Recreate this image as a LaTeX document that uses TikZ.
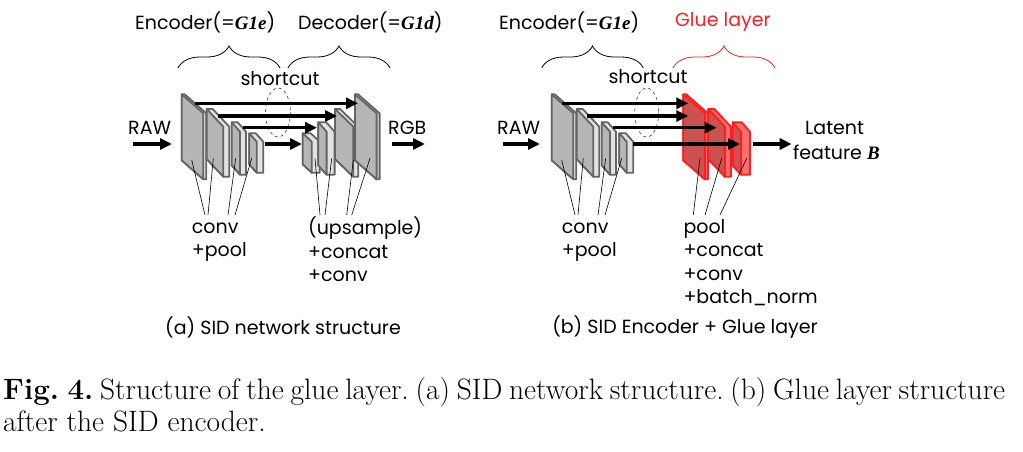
\documentclass[tikz,border=0pt]{standalone}
\usepackage{fontspec}
\newfontfamily\diagfont{Poppins}
\newfontfamily\gfont{Liberation Serif}
\usetikzlibrary{arrows.meta,decorations.pathreplacing}

\definecolor{grayface}{RGB}{182,182,182}
\definecolor{grayedge}{RGB}{100,100,100}
\definecolor{grayside}{RGB}{226,226,226}
\definecolor{redface}{RGB}{204,82,82}
\definecolor{rededge}{RGB}{255,30,30}
\definecolor{redside}{RGB}{255,110,110}

\tikzset{
  lbl/.style={font=\diagfont\fontsize{19}{23.3}\selectfont, inner sep=0pt},
  fwd/.style={line width=3.2pt, -{Triangle[length=12pt,width=11pt]}},
  pin/.style={line width=0.6pt},
  brc/.style={decorate, decoration={brace, amplitude=22pt}, line width=0.8pt},
  sc/.style={dashed, line width=0.7pt, draw=black!70},
}

% slab: name, x, y, w, s, h, t, colour prefix
\newcommand\slab[8]{%
  \filldraw[fill=#8side, draw=#8edge, line width=1.8pt, line join=round]
    (#2,#3) -- ++(#7,0) -- ++(#4,#5) -- ++(0,#6) -- ++(-#7,0) -- ++(-#4,-#5) -- cycle;
  \filldraw[fill=#8face, draw=#8edge, line width=1.8pt, line join=round]
    (#2,#3) coordinate (#1) -- ++(#4,#5) -- ++(0,#6) -- ++(-#4,-#5) -- cycle;
}

\begin{document}
\begin{tikzpicture}[x=1pt, y=-1pt]
\useasboundingbox (0,0) rectangle (1023,451);

\node[lbl, anchor=west] (encA) at (135,22) {Encoder(={\gfont\bfseries\itshape G1e})};
\node[lbl, anchor=west] (decA) at (298,22) {Decoder(={\gfont\bfseries\itshape G1d})};
\draw[brc] (178,68) -- (280,68);
\draw[brc] (288,68) -- (390,68);
\node[lbl] (shortA) at (280,79) {shortcut};
\node[lbl, anchor=west] (rawA) at (128,128) {RAW};
\node[lbl, anchor=west] (rgbA) at (388,128) {RGB};

\slab{e1}{181.7}{94.3}{21.6}{19}{66}{3}{gray}
\slab{e2}{206.7}{109}{16.6}{17.7}{50}{6}{gray}
\slab{e3}{231.7}{122.3}{8.3}{9.4}{43}{6}{gray}
\slab{e4}{249.3}{133.3}{7.4}{8.4}{31}{6.5}{gray}
\slab{d4}{302.7}{133.3}{9}{8.4}{31}{8}{gray}
\slab{d3}{318.3}{122.3}{8.3}{9.4}{43}{8}{gray}
\slab{d2}{335}{109}{18.3}{17.7}{50}{5}{gray}
\slab{d1}{355}{94.3}{21.6}{19}{66}{3}{gray}

\draw[sc] (278,112.5) ellipse (12.5 and 24.5);

\coordinate (rawAs) at (133,144);
\coordinate (rawAe) at (172,144);
\coordinate (rgbAs) at (392,144);
\coordinate (rgbAe) at (425,144);
\draw[fwd] (rawAs) -- (rawAe);
\draw[fwd] (rgbAs) -- (rgbAe);

\coordinate (a1s) at (195,103.3);
\coordinate (a1e) at (358,103.3);
\coordinate (a2s) at (218,116);
\coordinate (a2e) at (337,116);
\coordinate (a3s) at (243,127.7);
\coordinate (a3e) at (317,127.7);
\coordinate (a4s) at (265,144);
\coordinate (a4e) at (302,144);
\draw[fwd] (a1s) -- (a1e);
\draw[fwd] (a2s) -- (a2e);
\draw[fwd] (a3s) -- (a3e);
\draw[fwd] (a4s) -- (a4e);

\coordinate (e1p) at (191.7,160);
\coordinate (e2p) at (213.3,158.3);
\coordinate (e3p) at (235.7,158.3);
\coordinate (e4p) at (251.7,158.3);
\coordinate (d4p) at (315,158.3);
\coordinate (d3p) at (331.7,158.3);
\coordinate (d2p) at (353.3,160);
\coordinate (d1p) at (370,158.3);
\coordinate (e1q) at (205,215);
\coordinate (e2q) at (208,215);
\coordinate (e3q) at (228,215);
\coordinate (e4q) at (235,215);
\coordinate (d4q) at (320,215);
\coordinate (d3q) at (325,215);
\coordinate (d2q) at (346.7,215);
\coordinate (d1q) at (351.7,215);
\draw[pin] (e1p) -- (e1q) (e2p) -- (e2q) (e3p) -- (e3q) (e4p) -- (e4q);
\draw[pin] (d4p) -- (d4q) (d3p) -- (d3q) (d2p) -- (d2q) (d1p) -- (d1q);

\node[lbl, anchor=north west, align=left] (convA) at (191.7,217) {\strut conv\\+pool};
\node[lbl, anchor=north west, align=left] (upA) at (308,217) {\strut(upsample)\\+concat\\+conv};
\node[lbl] (subA) at (283,327) {(a) SID network structure};

\node[lbl, anchor=west] (encB) at (499,22) {Encoder(={\gfont\bfseries\itshape G1e})};
\node[lbl, anchor=west, text=rededge] (glueB) at (675,22) {Glue layer};
\draw[brc] (541.7,68) -- (643.3,68);
\draw[brc, draw=rededge] (673,68) -- (775,68);
\node[lbl] (shortB) at (648,77) {shortcut};
\node[lbl, anchor=west] (rawB) at (497,128) {RAW};
\node[lbl, anchor=west] (latB) at (805,128) {Latent};
\node[lbl, anchor=west] (featB) at (793,152) {feature {\gfont\bfseries\itshape B}};

\slab{f1}{551.7}{94.3}{21.6}{19}{66}{3}{gray}
\slab{f2}{576.7}{109}{16.6}{17.7}{50}{6}{gray}
\slab{f3}{601.7}{122.3}{8.3}{9.4}{43}{6}{gray}
\slab{f4}{619.3}{133.3}{7.4}{8.4}{31}{6.5}{gray}
\slab{g1}{683.3}{94.3}{21.6}{19}{66}{3}{red}
\slab{g2}{708.3}{109}{16.6}{17.7}{50}{6}{red}
\slab{g3}{732.7}{122.3}{8.3}{9.4}{43}{9}{red}

\draw[sc] (646.7,112.5) ellipse (12 and 24.5);

\coordinate (rawBs) at (502.7,144);
\coordinate (rawBe) at (540,144);
\coordinate (latBs) at (753.3,144);
\coordinate (latBe) at (791.7,144);
\draw[fwd] (rawBs) -- (rawBe);
\draw[fwd] (latBs) -- (latBe);

\coordinate (b1s) at (562,103.3);
\coordinate (b1e) at (688.3,103.3);
\coordinate (b2s) at (586.7,116);
\coordinate (b2e) at (688.3,116);
\coordinate (b3s) at (613.3,127.7);
\coordinate (b3e) at (716.7,127.7);
\coordinate (b4s) at (633.3,144);
\coordinate (b4e) at (740,144);
\draw[fwd] (b1s) -- (b1e);
\draw[fwd] (b2s) -- (b2e);
\draw[fwd] (b3s) -- (b3e);
\draw[fwd] (b4s) -- (b4e);

\coordinate (f1p) at (561.7,160);
\coordinate (f2p) at (583.3,158.3);
\coordinate (f3p) at (605.7,158.3);
\coordinate (f4p) at (621.7,158.3);
\coordinate (g1p) at (700,158.3);
\coordinate (g2p) at (721.7,158.3);
\coordinate (g3p) at (746.7,158.3);
\coordinate (f1q) at (575,215);
\coordinate (f2q) at (578,215);
\coordinate (f3q) at (598,215);
\coordinate (f4q) at (605,215);
\coordinate (g1q) at (693.3,215);
\coordinate (g2q) at (705,215);
\coordinate (g3q) at (720,215);
\draw[pin] (f1p) -- (f1q) (f2p) -- (f2q) (f3p) -- (f3q) (f4p) -- (f4q);
\draw[pin] (g1p) -- (g1q) (g2p) -- (g2q) (g3p) -- (g3q);

\node[lbl, anchor=north west, align=left] (convB) at (561.7,217) {\strut conv\\+pool};
\node[lbl, anchor=north west, align=left] (poolB) at (683.3,217) {\strut pool\\+concat\\+conv\\+batch\_norm};
\node[lbl] (subB) at (685,327) {(b) SID Encoder + Glue layer};

\node[anchor=north west, inner sep=0pt, align=left, font=\fontsize{29.5}{32.5}\selectfont\frenchspacing] (cap) at (3,376.2)
  {\strut\makebox[1002pt][s]{\textbf{Fig.~4.} Structure of the glue layer. (a) SID network structure. (b) Glue layer structure}\\after the SID encoder.};

\end{tikzpicture}
\end{document}
